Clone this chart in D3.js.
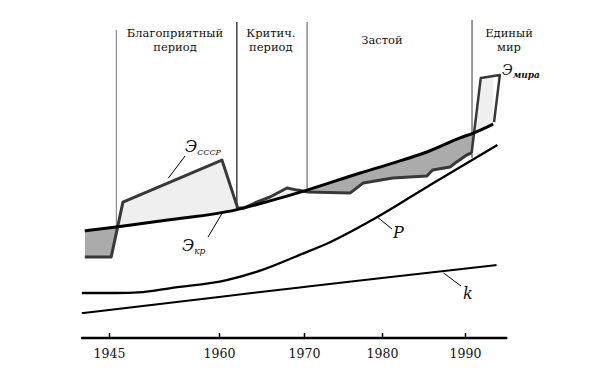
<!DOCTYPE html>
<html>
<head>
<meta charset="utf-8">
<script src="https://cdn.jsdelivr.net/npm/d3@7"></script>
<style>
body { margin: 0; background: #fff; }
</style>
</head>
<body>
<svg id="chart" width="592" height="372" font-family="DejaVu Serif, Liberation Serif, serif"></svg>
<script>
// axis
var tickYears = [1945, 1960, 1970, 1980, 1990];
var tickLabels = ["1945", "1960", "1970", "1980", "1990"];
var axisYears = [1941.2, 1995.1];

// periods
var periodNames = [["Благоприятный", "период"], ["Критич.", "период"], ["Застой"], ["Единый", "мир"]];
var periodCenters = [1954, 1966.1, 1980, 1995.3];
var periodStarts = [1946, 1962.1, 1970.4, 1990.85];
var periodTops = [102.7, 105.3, 105.3, 106];
var periodBottoms = [37, 43, 49.3, 60];

// Э кр (critical level)
var krYears = [1941.7, 1946, 1953, 1962, 1966, 1970.4, 1977.2, 1981.3, 1985.4, 1989.4, 1991, 1993.4];
var krValues = [35.7, 37, 39.3, 42.7, 45.7, 49.3, 55, 58.3, 62, 66.7, 68.3, 71.3];

// Э СССР
var ussrYears = [1941.7, 1945.3, 1946.9, 1960.35, 1962.2, 1962.9, 1964.2, 1966, 1968, 1969.2, 1970.5, 1975.9, 1977.6, 1981.3, 1985.4, 1986.1, 1988.2, 1989, 1990.2, 1990.8];
var ussrValues = [27, 27, 45.3, 59.3, 43.3, 43.3, 45, 47, 50, 49.3, 48.7, 48.3, 51.7, 53.3, 54, 56, 57, 58.7, 61, 61.7];

// Э мира
var worldYears = [1990.8, 1991.9, 1994.2, 1993.5];
var worldValues = [61.7, 86.7, 87.7, 72];

// P
var pYears = [1941.3, 1945.8, 1949.6, 1953.6, 1960.9, 1965.1, 1969.5, 1973.4, 1979.4, 1986.2, 1993.9];
var pValues = [15, 15, 15.3, 16.7, 19.3, 22.7, 27.7, 32, 40.3, 51.7, 64.3];

// k
var kYears = [1941.3, 1960, 1970, 1980, 1993.8];
var kValues = [8.3, 13.7, 17, 20, 24.3];

function pts(xs, vs) {
	return xs.map(function(x, i) { return {year: x, v: vs[i]}; });
}

var svg = d3.select("#chart"),
	width = +svg.attr("width"),
	height = +svg.attr("height");

var x = d3.scaleLinear().domain(tickYears).range([109, 219, 304, 382, 465]);
var y = d3.scaleLinear().domain([0, 100]).range([338, 38]);

var kr = pts(krYears, krValues),
	ussr = pts(ussrYears, ussrValues),
	world = pts(worldYears, worldValues),
	pData = pts(pYears, pValues),
	kData = pts(kYears, kValues);

var defs = svg.append("defs");

defs.append("clipPath").attr("id", "aboveKr")
	.append("path")
	.attr("d", d3.area().curve(d3.curveMonotoneX)
		.x(function(d) { return x(d.year); })
		.y0(0)
		.y1(function(d) { return y(d.v); })(kr));

defs.append("clipPath").attr("id", "belowKr")
	.append("path")
	.attr("d", d3.area().curve(d3.curveMonotoneX)
		.x(function(d) { return x(d.year); })
		.y0(height)
		.y1(function(d) { return y(d.v); })(kr));

// fills
svg.append("path")
	.attr("d", d3.area()
		.x(function(d) { return x(d.year); })
		.y0(height)
		.y1(function(d) { return y(d.v); })(ussr))
	.attr("clip-path", "url(#aboveKr)")
	.attr("fill", "#efefef");

svg.append("path")
	.attr("d", d3.area()
		.x(function(d) { return x(d.year); })
		.y0(0)
		.y1(function(d) { return y(d.v); })(ussr))
	.attr("clip-path", "url(#belowKr)")
	.attr("fill", "#ababab");

svg.append("path")
	.attr("d", d3.line()
		.x(function(d) { return x(d.year); })
		.y(function(d) { return y(d.v); })(world) + "Z")
	.attr("clip-path", "url(#aboveKr)")
	.attr("fill", "#efefef");

// period dividers
var dividerColors = ["#777", "#111", "#888", "#999"];
var dividerWidths = [1, 1.2, 1.5, 2];
periodStarts.forEach(function(yr, i) {
	svg.append("line")
		.attr("x1", x(yr)).attr("x2", x(yr))
		.attr("y1", y(periodTops[i])).attr("y2", y(periodBottoms[i]))
		.attr("stroke", dividerColors[i])
		.attr("stroke-width", dividerWidths[i]);
});

// period names, one text per line
periodNames.forEach(function(lines, i) {
	lines.forEach(function(s, j) {
		svg.append("text")
			.attr("x", x(periodCenters[i]))
			.attr("y", (lines.length == 1 ? 44 : 37) + j * 14)
			.attr("text-anchor", "middle")
			.attr("font-size", 11.5)
			.attr("fill", "#111")
			.text(s);
	});
});

// curves
var straight = d3.line()
	.x(function(d) { return x(d.year); })
	.y(function(d) { return y(d.v); });
var smooth = d3.line().curve(d3.curveMonotoneX)
	.x(function(d) { return x(d.year); })
	.y(function(d) { return y(d.v); });

svg.append("path").attr("d", straight(ussr))
	.attr("fill", "none").attr("stroke", "#383838")
	.attr("stroke-width", 3).attr("stroke-linejoin", "round");

svg.append("path").attr("d", straight(world))
	.attr("fill", "none").attr("stroke", "#383838")
	.attr("stroke-width", 2.5).attr("stroke-linejoin", "round");

svg.append("path").attr("d", smooth(kr))
	.attr("fill", "none").attr("stroke", "#000")
	.attr("stroke-width", 3);

svg.append("path").attr("d", smooth(pData))
	.attr("fill", "none").attr("stroke", "#000")
	.attr("stroke-width", 2.3);

svg.append("path").attr("d", smooth(kData))
	.attr("fill", "none").attr("stroke", "#000")
	.attr("stroke-width", 2);

// axis
var axis = svg.append("g")
	.attr("transform", "translate(0," + y(0) + ")")
	.call(d3.axisBottom(x)
		.tickValues(tickYears)
		.tickFormat(function(d, i) { return tickLabels[i]; })
		.tickSizeInner(-5)
		.tickSizeOuter(0)
		.tickPadding(11));
axis.attr("font-family", "DejaVu Serif, Liberation Serif, serif").attr("font-size", 12.5);
axis.select(".domain").remove();
axis.selectAll(".tick line").attr("stroke", "#000").attr("stroke-width", 1.5);
axis.selectAll(".tick text").attr("fill", "#111");
axis.append("line")
	.attr("x1", x(axisYears[0])).attr("x2", x(axisYears[1]))
	.attr("stroke", "#000").attr("stroke-width", 2.5);

// labels with leaders
var notes = [
	{main: "Э", sub: "СССР", year: 1953.1, v: 53.3, tx: 185, ty: 152, lx: 185, ly: 156},
	{main: "Э", sub: "кр", year: 1960.35, v: 41.5, tx: 182, ty: 251, lx: 208, ly: 237},
	{main: "P", sub: "", year: 1979.4, v: 40.3, tx: 393, ty: 238, lx: 392, ly: 229},
	{main: "k", sub: "", year: 1987.4, v: 21.7, tx: 463, ty: 299, lx: 461, ly: 286},
	{main: "Э", sub: "мира", year: null, v: null, tx: 502, ty: 75}
];
notes.forEach(function(n) {
	if (n.year != null) {
		svg.append("line")
			.attr("x1", x(n.year)).attr("y1", y(n.v))
			.attr("x2", n.lx).attr("y2", n.ly)
			.attr("stroke", "#000").attr("stroke-width", 1);
	}
	var t = svg.append("text")
		.attr("x", n.tx).attr("y", n.ty)
		.attr("font-style", "italic")
		.attr("font-size", n.sub == "мира" ? 14 : 16)
		.attr("fill", "#111")
		.text(n.main);
	if (n.sub) {
		t.append("tspan")
			.attr("dy", 3)
			.attr("font-size", n.sub == "СССР" ? 8 : 9)
			.attr("font-weight", n.sub == "мира" ? "bold" : "normal")
			.text(n.sub);
	}
});
</script>
</body>
</html>
